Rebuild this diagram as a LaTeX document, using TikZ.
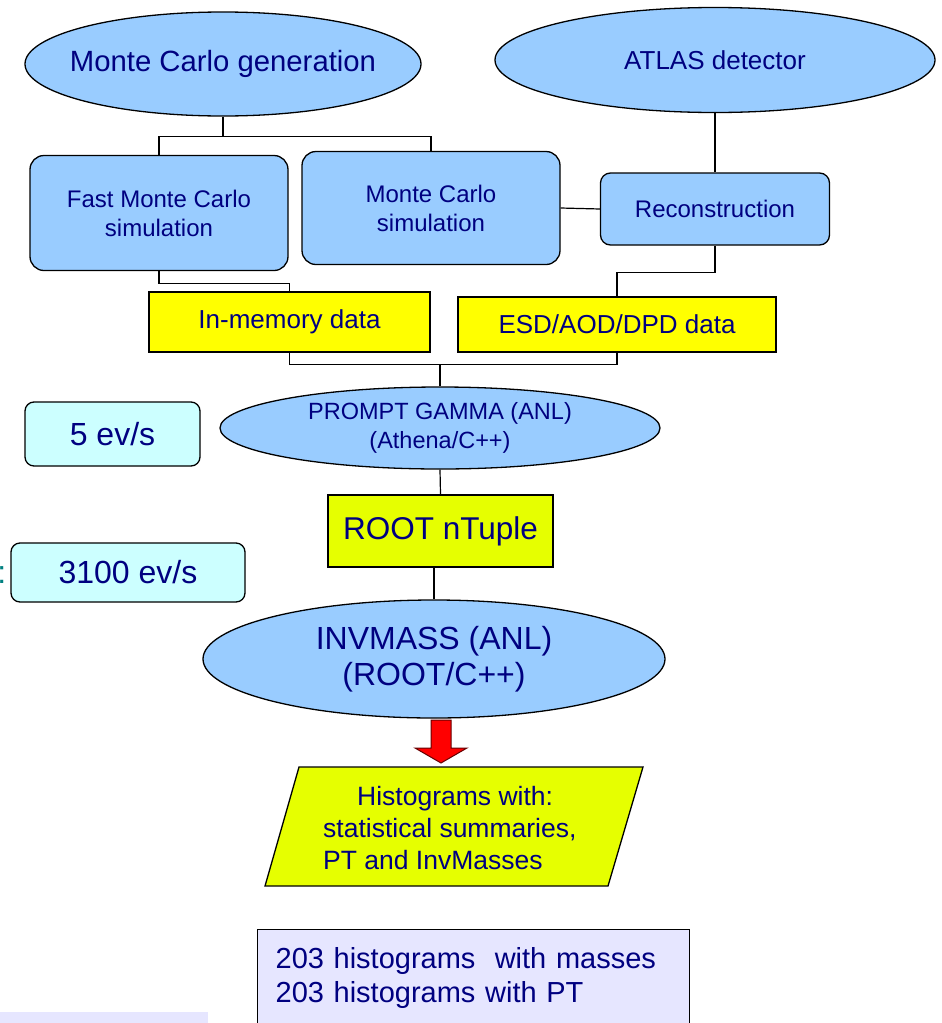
\documentclass[tikz,border=0pt]{standalone}
\usepackage{fontspec}
\setmainfont{Liberation Sans}
\usetikzlibrary{shapes.geometric}
\definecolor{nodeblue}{HTML}{99CCFF}
\definecolor{datayellow}{HTML}{FFFF00}
\definecolor{limeyellow}{HTML}{E6FF00}
\definecolor{ratecyan}{HTML}{CCFFFF}
\definecolor{sumlilac}{HTML}{E6E6FF}
\definecolor{labelnavy}{HTML}{000080}
\newcommand{\outline}{1.3pt}
\newcommand{\sz}[2]{\fontsize{#1}{#2}\selectfont}
\tikzset{
  blob/.style={ellipse, draw, fill=nodeblue, line width=\outline, inner sep=-20pt, text=labelnavy, align=center},
  soft/.style={rectangle, rounded corners=14pt, draw, fill=nodeblue, line width=\outline, inner sep=0pt, text=labelnavy, align=center},
  datafile/.style={rectangle, draw, fill=datayellow, line width=\outline, inner sep=0pt, text=labelnavy, align=center},
  rate/.style={rectangle, rounded corners=9pt, draw, fill=ratecyan, line width=\outline, inner sep=0pt, text=labelnavy},
  wire/.style={line width=1.2pt},
}

\begin{document}
\begin{tikzpicture}[x=1pt,y=-1pt]
\useasboundingbox (0,0) rectangle (942,1023);
\node[blob] (1) at (223,64) [minimum width=396, minimum height=104, font=\sz{29.3pt}{34pt}] {Monte Carlo generation};
\node[blob] (2) at (715,60) [minimum width=440, minimum height=105, font=\sz{26pt}{31pt}] {ATLAS detector};
\node[soft] (3) at (159,213) [minimum width=258, minimum height=115, font=\sz{24pt}{29pt}] {Fast Monte Carlo\\simulation};
\node[soft] (4) at (431,208) [minimum width=258, minimum height=113, font=\sz{24pt}{29pt}] {Monte Carlo\\simulation};
\node[soft] (5) at (715,209) [minimum width=229, minimum height=72, rounded corners=10pt, font=\sz{24pt}{29pt}] {Reconstruction};
\node[datafile] (6) at (289.5,322) [minimum width=281, minimum height=60, font=\sz{26pt}{31pt}] {In-memory data};
\node[datafile] (7) at (617,324.5) [minimum width=318, minimum height=55, font=\sz{26pt}{31pt}] {ESD/AOD/DPD data};
\node[rate] (8) at (112.5,434) [minimum width=175, minimum height=64, font=\sz{32pt}{38pt}] {5 ev/s};
\node[blob] (9) at (440,428) [minimum width=440, minimum height=82, font=\sz{23.5pt}{29pt}] {PROMPT GAMMA (ANL)\\(Athena/C++)};
\node[datafile] (10) at (440.5,531) [minimum width=225, minimum height=72, fill=limeyellow, font=\sz{31.5pt}{37pt}] {ROOT nTuple};
\node[rate] (11) at (128,572.5) [minimum width=234, minimum height=59, font=\sz{32pt}{38pt}] {3100 ev/s};
\node[text=teal, anchor=base east, inner sep=0pt, font=\sz{32pt}{38pt}] (c) at (6.5,583) {:};
\node[blob] (12) at (434,659) [minimum width=462, minimum height=118, font=\sz{32pt}{36pt}] {INVMASS (ANL)\\(ROOT/C++)};
%output
\filldraw[fill=red, draw=red!40!black, line width=1pt] (431,720) -- (451,720) -- (451,748) -- (467,748) -- (441,763) -- (415,748) -- (431,748) -- cycle;
\filldraw[fill=limeyellow, line width=\outline] (299,767) -- (643,767) -- (608,886) -- (265,886) -- cycle;
\node[text=labelnavy, anchor=north west, inner sep=0pt, align=left, font=\sz{26.5pt}{32pt}] (13) at (323,786.5) {\hspace*{34pt}Histograms with:\\statistical summaries,\\PT and InvMasses};
\node[rectangle, draw, fill=sumlilac, line width=\outline, anchor=north west, inner xsep=18pt, inner ysep=18pt, text width=396pt, align=left, text=labelnavy, font=\sz{29pt}{34pt}] (14) at (257,929) {203 histograms\ \ with masses\\203 histograms with PT};
\fill[sumlilac] (0,1012) rectangle (208,1023);
%connectors
\draw[wire] (1.south) -- ++(0,20) -| (3.north);
\draw[wire] (1.south) ++(0,20) -| (4.north);
\draw[wire] (2.south) -- (5.north);
\draw[wire] (4.east) -- (5.west);
\draw[wire] (3.south) -- ++(0,12) -| (6.north);
\draw[wire] (5.south) -- ++(0,27) -| (7.north);
\draw[wire] (6.south) -- ++(0,12) coordinate (j) -| (7.south);
\draw[wire] (9.north) -- (9.north |- j);
\draw[wire] (9.south) -- (10.north);
\draw[wire] (12.north) -- (12.north |- 10.south);
\end{tikzpicture}
\end{document}
